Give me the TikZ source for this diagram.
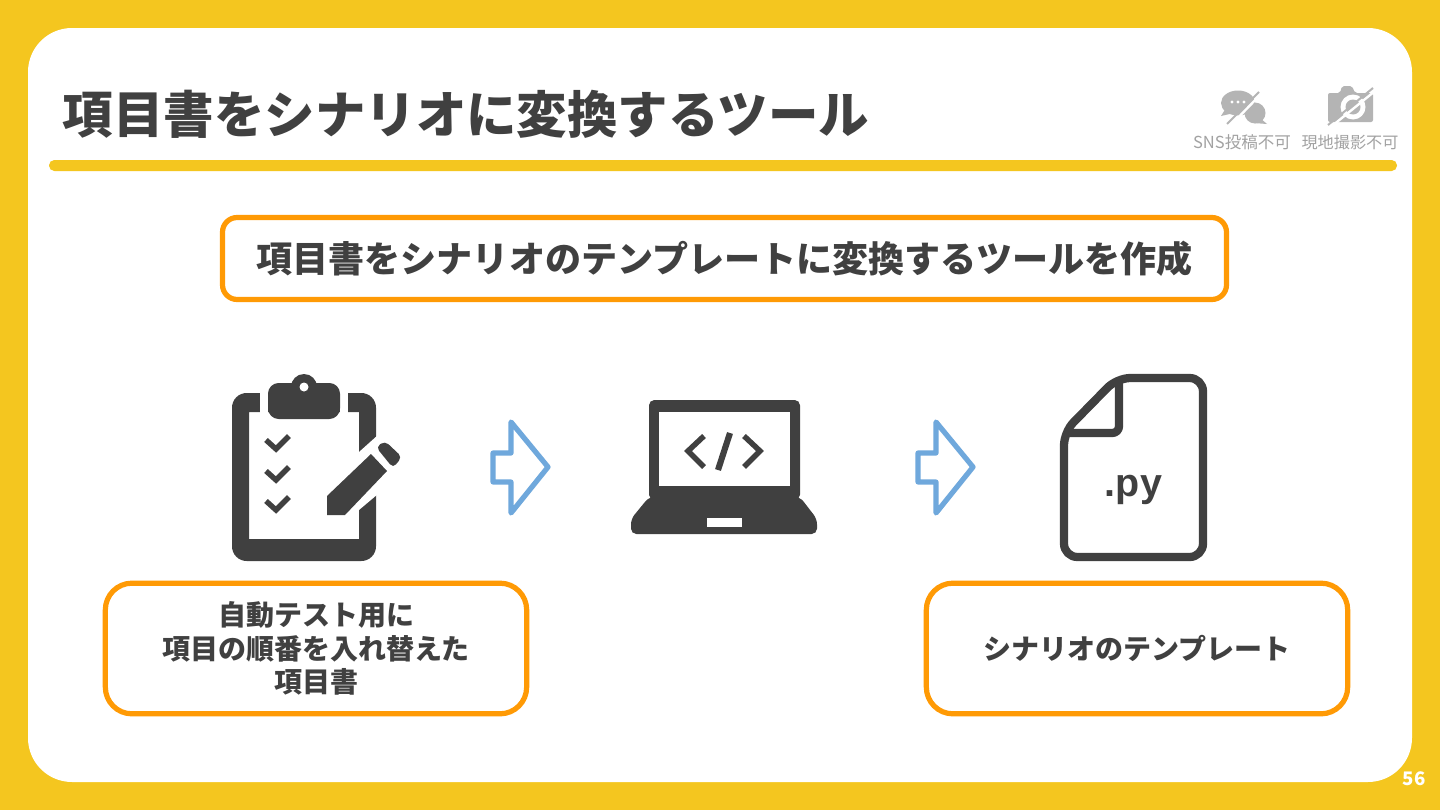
\documentclass[tikz,border=0pt]{standalone}
\usepackage{fontspec}
\setmainfont{Noto Sans CJK JP}
\newfontfamily\pyfont{Liberation Sans}
\definecolor{bgyellow}{HTML}{F4C61F}
\definecolor{boxorange}{HTML}{FF9A05}
\definecolor{ink}{HTML}{404040}
\definecolor{arrowblue}{HTML}{6FA8DC}
\definecolor{mute}{HTML}{B4B4B4}
\definecolor{mutetext}{HTML}{A2A2A2}
\tikzset{
  labelbox/.style={draw=boxorange,line width=3.9pt,fill=white,text=ink,align=center,inner sep=0pt,font=\bfseries\fontsize{21pt}{25.2pt}\selectfont},
  iconfill/.style={fill=ink,draw=none},
  bigarrow/.style={draw=arrowblue,line width=3.9pt,line join=round,fill=white},
  tick/.style={draw=ink,line width=4pt,line join=miter},
  mutelabel/.style={text=mutetext,inner sep=0pt,anchor=base,font=\fontsize{12.4pt}{14pt}\selectfont},
}
\begin{document}
\begin{tikzpicture}[x=0.75pt,y=-0.75pt]
\useasboundingbox (0,0) rectangle (1440,810);
\fill[bgyellow] (0,0) rectangle (1440,810);
\fill[white,rounded corners=33pt] (28,28) rectangle (1412,782);
\node[anchor=base west,inner sep=0pt,text=ink,font=\bfseries\fontsize{37.85pt}{40pt}\selectfont] (title) at (62.5,133) {項目書をシナリオに変換するツール};
\fill[bgyellow,rounded corners=4pt] (49,160) rectangle (1397,171);
% top-right notices
\fill[mute] (1238,103) ellipse [x radius=17,y radius=12.5];
\fill[mute] (1226,108) -- (1221,116) -- (1234,113) -- cycle;
\fill[mute] (1255,113) ellipse [x radius=10.5,y radius=10.5];
\fill[mute] (1260,118) -- (1267,124) -- (1254,123) -- cycle;
\foreach \px in {1232,1238,1244} \fill[white] (\px,102) circle [radius=1.6];
\draw[white,line width=1.8pt] (1261,94) -- (1231,125);
\draw[mute,line width=1.5pt] (1259,92) -- (1227,124);
\fill[mute,rounded corners=1.5pt] (1328,93) -- (1340,93) -- (1342,86) -- (1352,86) -- (1355,93) -- (1373,93) -- (1373,122) -- (1328,122) -- cycle;
\fill[white] (1353,107) circle [radius=12.5];
\fill[mute] (1353,107) circle [radius=7.5];
\draw[white,line width=1.8pt] (1375,91) -- (1332,126);
\draw[mute,line width=1.5pt] (1373,88) -- (1328,125);
\node[mutelabel] (snslabel) at (1242,148) {SNS投稿不可};
\node[mutelabel,font=\fontsize{12.1pt}{14pt}\selectfont] (photolabel) at (1350,148) {現地撮影不可};
% main statement
\node[labelbox,minimum width=753pt,minimum height=61.5pt,rounded corners=11pt,font=\bfseries\fontsize{27.05pt}{30pt}\selectfont] (statement) at (724.5,258.5) {項目書をシナリオのテンプレートに変換するツールを作成};
% clipboard
\fill[ink,even odd rule,rounded corners=11pt] (232,393) rectangle (376,561) {[sharp corners] (249,412) rectangle (359,539)};
\fill[white] (260,385) rectangle (268,420);
\fill[white] (340,385) rectangle (348,420);
\fill[white] (359,452) -- (378,435) -- (378,494) -- (359,510) -- cycle;
\fill[ink] (304,387) circle [radius=13];
\fill[ink,rounded corners=8pt] (268,383) rectangle (340,419);
\fill[white] (304,387) circle [radius=4.5];
\foreach \dy in {0,31,61} \draw[tick] (266,{440+\dy}) -- (276,{449+\dy}) -- (289,{436+\dy});
\fill[ink] (327,515) -- (327,496) -- (371,454) -- (387,471) -- (345,515) -- cycle;
\fill[ink,rounded corners=3.5pt] (376,447) -- (385,441) -- (402,457) -- (393,468) -- cycle;
% first arrow
\draw[bigarrow] (511,422) -- (548,467) -- (511,513) -- (511,482) -- (493,482) -- (493,453) -- (511,453) -- cycle;
% laptop
\fill[ink,rounded corners=4pt] (649,500) -- (649,400) -- (800,400) -- (800,500) -- cycle;
\fill[ink,rounded corners=4pt] (649,497) -- (631,519) -- (631,534) -- (817,534) -- (817,519) -- (800,497) -- cycle;
\fill[white] (659,412) rectangle (790,486);
\fill[white] (707,518) rectangle (742,527);
\draw[ink,line width=4.1pt] (704,436) -- (688,451) -- (704,467);
\draw[ink,line width=4.1pt] (744,436) -- (760,451) -- (744,467);
\draw[ink,line width=4.6pt] (730,433) -- (718,470);
% second arrow
\draw[bigarrow] (936,422) -- (973,467) -- (936,513) -- (936,482) -- (918,482) -- (918,453) -- (936,453) -- cycle;
% file
\draw[ink,line width=6.2pt,line join=round,rounded corners=10pt] (1064,432) -- (1064,557) -- (1203,557) -- (1203,378) -- (1117,378) -- cycle;
\draw[ink,line width=6.2pt,rounded corners=5pt,line join=round] (1119,378) -- (1119,433) -- (1064,433);
\node[inner sep=0pt,anchor=base,text=ink,font=\pyfont\bfseries\fontsize{29.6pt}{32pt}\selectfont] (pylabel) at (1133.5,496) {.py};
% caption boxes
\node[labelbox,minimum width=316pt,minimum height=98pt,rounded corners=20pt] (leftcap) at (316,648.5) {自動テスト用に\\項目の順番を入れ替えた\\項目書};
\node[labelbox,minimum width=316pt,minimum height=98pt,rounded corners=20pt] (rightcap) at (1137,648.5) {シナリオのテンプレート};
\node[inner sep=0pt,text=white,font=\bfseries\fontsize{14pt}{16pt}\selectfont] (pagenum) at (1414,779) {56};
\end{tikzpicture}
\end{document}
